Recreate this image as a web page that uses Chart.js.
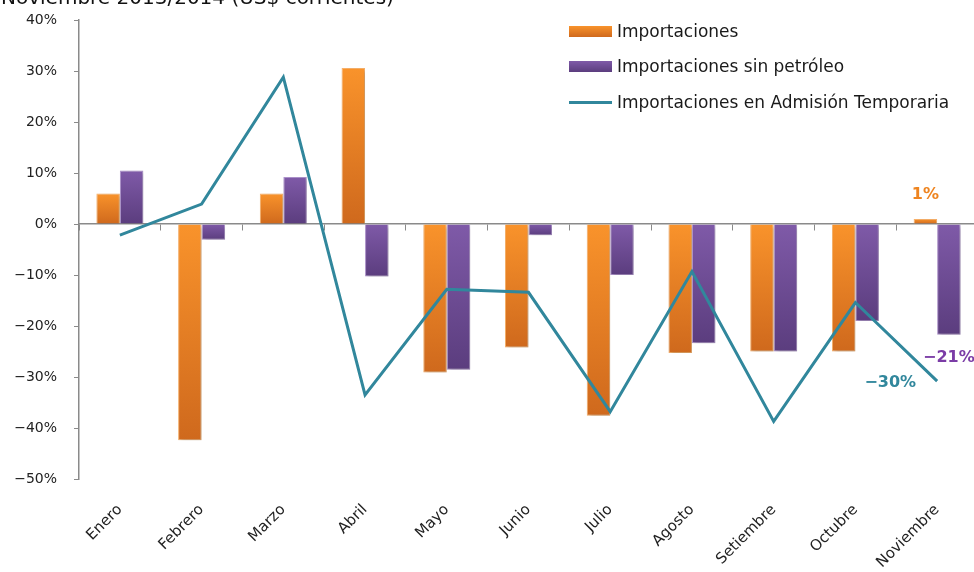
<!DOCTYPE html>
<html><head><meta charset="utf-8">
<script src="https://cdn.jsdelivr.net/npm/chart.js@4/dist/chart.umd.min.js"></script>
<style>
html,body{margin:0;padding:0;background:#fff;overflow:hidden;width:974px;height:572px;}
#wrap{position:absolute;left:0;top:0;width:978px;height:572px;}
#title{position:absolute;left:1px;top:-13px;font:20px "DejaVu Sans";line-height:20px;color:#111;white-space:nowrap;}
#legend{position:absolute;left:569px;top:20px;font:17px "DejaVu Sans";color:#1a1a1a;}
.row{position:absolute;left:0;height:22px;white-space:nowrap;display:flex;align-items:center;}
.sw{width:43px;margin-right:5px;}
</style></head>
<body>
<div id="wrap"><canvas id="c" width="978" height="572"></canvas></div>
<div id="title">Noviembre 2013/2014 (US$ corrientes)</div>
<div id="legend"></div>
<script>
const months = ['Enero','Febrero','Marzo','Abril','Mayo','Junio','Julio','Agosto','Setiembre','Octubre','Noviembre'];
const importaciones = [6.0,-42.4,6.0,30.6,-29.1,-24.2,-37.6,-25.3,-25.0,-25.0,1.0];
const sinPetroleo = [10.5,-3.1,9.2,-10.3,-28.6,-2.2,-10.0,-23.4,-25.0,-19.0,-21.7];
const admisionTemporaria = [-2.2,3.9,28.8,-33.5,-12.8,-13.4,-36.8,-9.3,-38.7,-15.4,-30.8];
const seriesNames = ['Importaciones','Importaciones sin petróleo','Importaciones en Admisión Temporaria'];
const endLabels = ['1%','−21%','−30%'];
const yMin = -50, yMax = 40, yStep = 10;

const ORANGE = ['#F9932B','#CF691D'];
const PURPLE = ['#7F5AA8','#5B3D7E'];
const TEAL = '#31879C';
const AXIS = '#8a8a8a';

function grad(cols){
  return (ctx) => {
    const c = ctx.chart;
    if (!c.chartArea || ctx.type !== 'data') return cols[0];
    const ys = c.scales.y;
    const v = ctx.raw;
    const y0 = ys.getPixelForValue(Math.max(v,0));
    const y1 = ys.getPixelForValue(Math.min(v,0));
    if (!isFinite(y0) || !isFinite(y1) || y1 - y0 < 1) return cols[0];
    const g = c.ctx.createLinearGradient(0,y0,0,y1);
    g.addColorStop(0,cols[0]); g.addColorStop(1,cols[1]);
    return g;
  };
}
const fmt = v => (v < 0 ? '−' + Math.abs(v) : '' + v) + '%';

const shadowPlugin = {
  id:'shadow',
  beforeDatasetDraw(chart,args){
    if (args.meta.type !== 'bar') return;
    const c = chart.ctx; c.save();
    c.shadowColor='rgba(0,0,0,0.22)'; c.shadowBlur=4; c.shadowOffsetX=2; c.shadowOffsetY=2;
  },
  afterDatasetDraw(chart,args){ if (args.meta.type === 'bar') chart.ctx.restore(); }
};
const endLabelPlugin = {
  id:'endLabels',
  afterDatasetsDraw(chart){
    const c = chart.ctx; const n = months.length - 1;
    c.save(); c.font = 'bold 16px "DejaVu Sans"'; c.textBaseline='middle';
    const b0 = chart.getDatasetMeta(0).data[n];
    c.fillStyle = '#EE8420'; c.textAlign='center'; c.fillText(endLabels[0], b0.x, b0.y - 24);
    const b1 = chart.getDatasetMeta(1).data[n];
    c.fillStyle = '#7B3CA6'; c.textAlign='center'; c.fillText(endLabels[1], b1.x, b1.y + 23);
    const p2 = chart.getDatasetMeta(2).data[n];
    c.fillStyle = TEAL; c.textAlign='right'; c.fillText(endLabels[2], p2.x - 21, p2.y + 2);
    c.restore();
  }
};

const chart = new Chart(document.getElementById('c'), {
  data:{
    labels: months,
    datasets:[
      {type:'bar', label:seriesNames[0], data:importaciones, backgroundColor:grad(ORANGE), borderColor:'rgba(250,170,90,0.9)', borderWidth:1, order:1},
      {type:'bar', label:seriesNames[1], data:sinPetroleo, backgroundColor:grad(PURPLE), borderColor:'rgba(165,135,200,0.9)', borderWidth:1, order:2},
      {type:'line', label:seriesNames[2], data:admisionTemporaria, borderColor:TEAL, borderWidth:3, pointRadius:0, tension:0, fill:false, order:0}
    ]
  },
  options:{
    responsive:false, animation:false, devicePixelRatio:1,
    layout:{padding:{left:0,right:0,top:20,bottom:0}},
    plugins:{legend:{display:false}, tooltip:{enabled:false}},
    datasets:{bar:{categoryPercentage:0.575, barPercentage:1.0}},
    scales:{
      x:{type:'category', position:'bottom', offset:true,
         grid:{display:false}, border:{display:false},
         ticks:{maxRotation:45, minRotation:45, padding:14, color:'#222', font:{family:'DejaVu Sans', size:15}},
         afterFit(s){ s.height = 93; }},
      xZero:{type:'category', axis:'x', position:{y:0}, offset:true,
         grid:{offset:true, drawOnChartArea:false, drawTicks:true, tickLength:6, color:AXIS, lineWidth:1},
         border:{display:true, color:AXIS, width:1.5},
         ticks:{display:false}},
      y:{type:'linear', min:yMin, max:yMax,
         ticks:{stepSize:yStep, padding:2, color:'#222', font:{family:'DejaVu Sans', size:14}, callback:v=>fmt(v)},
         grid:{drawOnChartArea:false, drawTicks:true, tickLength:20, tickBorderDash:[0,15,5,100], color:AXIS},
         border:{display:true, color:AXIS, width:1.5},
         afterFit(s){ s.width = 79; }}
    }
  },
  plugins:[shadowPlugin, endLabelPlugin]
});

const lg = document.getElementById('legend');
const tops = [0,35,71];
chart.data.datasets.forEach((ds,i)=>{
  const row = document.createElement('div'); row.className='row'; row.style.top = tops[i]+'px';
  const sw = document.createElement('div'); sw.className='sw';
  if (ds.type === 'line'){ sw.style.height='3px'; sw.style.background=TEAL; }
  else { const cols = i===0?ORANGE:PURPLE; sw.style.height='11px'; sw.style.background='linear-gradient(180deg,'+cols[0]+','+cols[1]+')'; }
  const tx = document.createElement('span'); tx.textContent = ds.label;
  row.appendChild(sw); row.appendChild(tx); lg.appendChild(row);
});
</script>
</body></html>
